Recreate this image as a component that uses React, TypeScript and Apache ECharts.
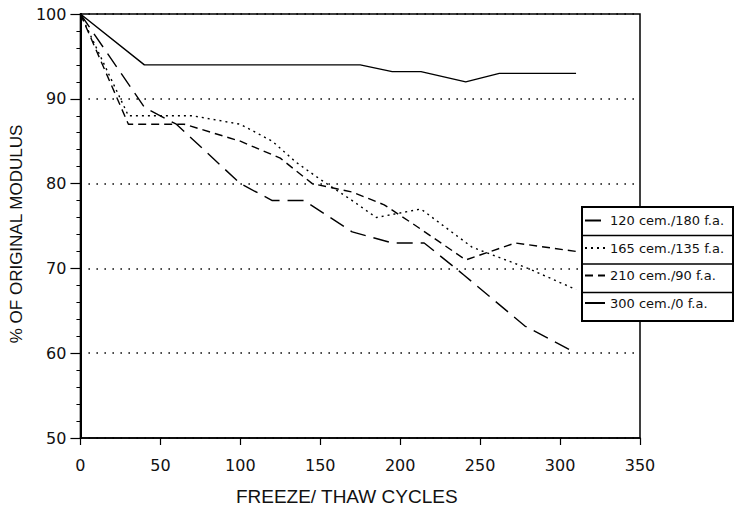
import React, { useEffect, useRef } from "react";
import * as echarts from "echarts";

// Freeze/thaw cycles (x) and % of original modulus (y)
const cycles120 = [0, 40, 60, 100, 120, 140, 170, 195, 215, 240, 278, 310];
const modulus120 = [100, 89, 87, 80, 78, 78, 74.3, 73, 73, 69.2, 63.2, 60];

const cycles165 = [0, 30, 70, 100, 120, 135, 150, 170, 185, 213, 245, 280, 310];
const modulus165 = [100, 88, 88, 87, 85, 82.5, 80.5, 78, 76, 77, 72.5, 70, 67.5];

const cycles210 = [0, 30, 65, 100, 125, 145, 170, 190, 210, 241, 272, 310];
const modulus210 = [100, 87, 87, 85, 83, 80, 79, 77.5, 75, 71, 73, 72];

const cycles300 = [0, 40, 175, 195, 213, 241, 262, 310];
const modulus300 = [100, 94, 94, 93.2, 93.2, 92, 93, 93];

const seriesNames = [
  "120 cem./180 f.a.",
  "165 cem./135 f.a.",
  "210 cem./90 f.a.",
  "300 cem./0 f.a.",
];

const xTicks = [0, 50, 100, 150, 200, 250, 300, 350];
const yTicks = [50, 60, 70, 80, 90, 100];

const pairs = (xs: number[], ys: number[]) => xs.map((x, i) => [x, ys[i]]);

export default function App() {
  const ref = useRef<HTMLDivElement>(null);
  useEffect(() => {
    if (!ref.current) return;
    const chart = echarts.init(ref.current, null, { renderer: "svg" });
    const tickFont = "DejaVu Sans";
    const dashes: any[] = [[16, 8], [2, 4], [8, 5], "solid"];
    const datas = [
      pairs(cycles120, modulus120),
      pairs(cycles165, modulus165),
      pairs(cycles210, modulus210),
      pairs(cycles300, modulus300),
    ];
    const boxL = 582, boxR = 733, boxT = 207, rowH = 28.5;
    const graphics: any[] = [
      {
        type: "rect",
        z: 50,
        shape: { x: boxL, y: boxT, width: boxR - boxL, height: rowH * 4 },
        style: { fill: "#fff", stroke: "#000", lineWidth: 2 },
      },
    ];
    for (let i = 1; i < 4; i++) {
      graphics.push({
        type: "line",
        z: 51,
        shape: { x1: boxL, y1: boxT + rowH * i, x2: boxR, y2: boxT + rowH * i },
        style: { stroke: "#000", lineWidth: 1.5 },
      });
    }
    chart.setOption({
      animation: false,
      backgroundColor: "#fff",
      grid: {
        left: 77,
        right: 95,
        top: 14,
        bottom: 84,
        show: true,
        borderColor: "#000",
        borderWidth: 1.5,
        backgroundColor: "transparent",
      },
      xAxis: {
        type: "value",
        min: xTicks[0],
        max: xTicks[xTicks.length - 1],
        interval: 50,
        name: "FREEZE/ THAW CYCLES",
        nameLocation: "middle",
        nameGap: 49,
        nameTextStyle: {
          fontFamily: "Liberation Sans",
          fontSize: 19,
          color: "#111",
          padding: [0, 27, 0, 0],
        },
        axisLine: { lineStyle: { color: "#000", width: 1.5 } },
        axisTick: { show: true, length: 7, lineStyle: { color: "#000", width: 1.2 } },
        axisLabel: { margin: 19, fontFamily: tickFont, fontSize: 16, color: "#111" },
        splitLine: { show: false },
      },
      yAxis: {
        type: "value",
        min: yTicks[0],
        max: yTicks[yTicks.length - 1],
        interval: 10,
        name: "% OF ORIGINAL MODULUS",
        nameLocation: "middle",
        nameGap: 48,
        nameTextStyle: {
          fontFamily: "Liberation Sans",
          fontSize: 17,
          color: "#111",
          padding: [0, 16, 0, 0],
        },
        axisLine: { show: true, lineStyle: { color: "#000", width: 2 } },
        axisTick: { show: true, length: 10, lineStyle: { color: "#000", width: 1.2 } },
        minorTick: { show: true, splitNumber: 5, length: 4, lineStyle: { color: "#000", width: 1 } },
        axisLabel: { margin: 14, fontFamily: tickFont, fontSize: 16, color: "#111" },
        splitLine: { show: true, lineStyle: { color: "#000", width: 1.5, type: [1.5, 6.5] } },
      },
      legend: {
        orient: "vertical",
        left: 584,
        top: 214,
        padding: 0,
        z: 60,
        itemWidth: 20,
        itemHeight: 14,
        itemGap: 14.5,
        itemStyle: { opacity: 0 },
        textStyle: { fontFamily: tickFont, fontSize: 13, color: "#111" },
        data: seriesNames,
      },
      graphic: graphics,
      series: seriesNames.map((name, i) => ({
        name,
        type: "line",
        data: datas[i],
        showSymbol: false,
        symbol: "none",
        lineStyle: { color: "#000", width: 1.4, type: dashes[i] },
        itemStyle: { color: "#000" },
        z: 3,
      })),
    });
    return () => chart.dispose();
  }, []);
  return (
    <div
      ref={ref}
      style={{ position: "fixed", left: 0, top: 0, width: 735, height: 522 }}
    />
  );
}
